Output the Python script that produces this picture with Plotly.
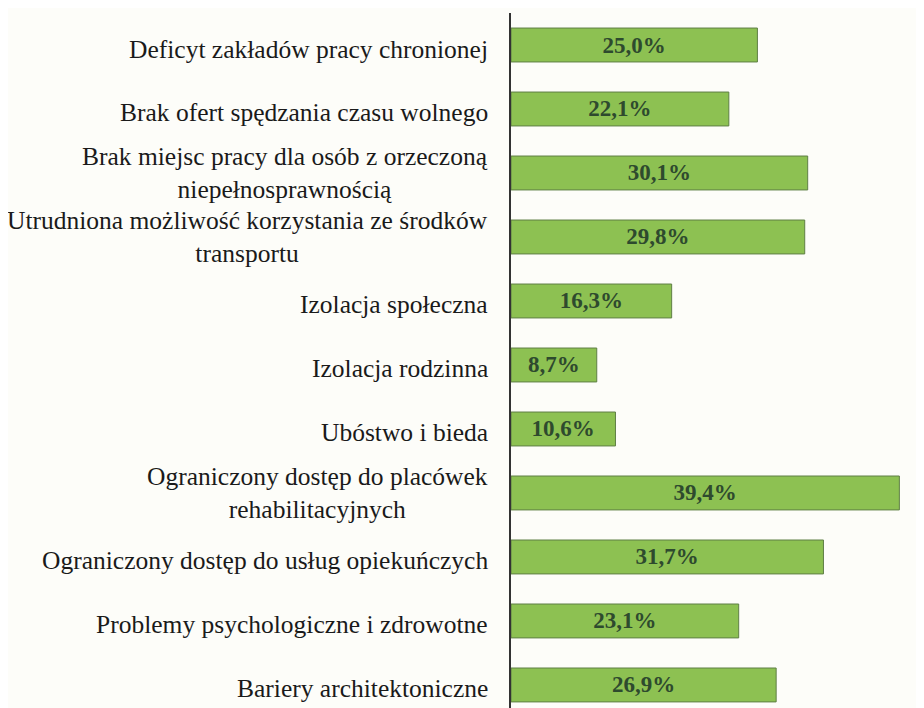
import plotly.graph_objects as go

categories = [
    "Deficyt zakładów pracy chronionej",
    "Brak ofert spędzania czasu wolnego",
    "Brak miejsc pracy dla osób z orzeczoną<br>niepełnosprawnością",
    "Utrudniona możliwość korzystania ze środków<br>transportu",
    "Izolacja społeczna",
    "Izolacja rodzinna",
    "Ubóstwo i bieda",
    "Ograniczony dostęp do placówek<br>rehabilitacyjnych",
    "Ograniczony dostęp do usług opiekuńczych",
    "Problemy psychologiczne i zdrowotne",
    "Bariery architektoniczne",
]
values = [25.0, 22.1, 30.1, 29.8, 16.3, 8.7, 10.6, 39.4, 31.7, 23.1, 26.9]
value_labels = [f"{v:.1f}%".replace(".", ",") for v in values]

serif = "Liberation Serif, Times New Roman, serif"
idx = list(range(len(categories)))

fig = go.Figure()
fig.add_trace(
    go.Bar(
        x=values,
        y=idx,
        orientation="h",
        width=0.53,
        marker=dict(color="#8dc152", line=dict(color="#5f7f45", width=1)),
        text=value_labels,
        textposition="inside",
        insidetextanchor="middle",
        textfont=dict(family=serif, size=23, color="#2e4a2e", weight="bold"),
        hoverinfo="skip",
    )
)

# Category labels as annotations so wrapped labels stay centred
for i, cat in enumerate(categories):
    wrapped = "<br>" in cat
    fig.add_annotation(
        x=0, xref="paper", y=i, yref="y",
        text=cat, showarrow=False,
        xanchor="right", yanchor="middle", align="center",
        xshift=-21, yshift=0 if wrapped else -4,
        font=dict(family=serif, size=25.5, color="#1a1a1a"),
    )

# page body has an 8px margin, so the figure is 8px smaller than the window
fig.update_layout(
    width=916,
    height=700,
    margin=dict(l=503, r=0, t=5, b=0),
    paper_bgcolor="#fdfdf9",
    plot_bgcolor="#fdfdf9",
    showlegend=False,
    uniformtext=dict(minsize=10, mode="show"),
)
fig.update_xaxes(range=[0, 41.9], visible=False)
fig.update_yaxes(
    range=[10.36, -0.5],
    showticklabels=False,
    showgrid=False,
    zeroline=False,
    showline=True,
    linecolor="#333333",
    linewidth=1.5,
    ticks="",
)

fig.write_html("out.html")
